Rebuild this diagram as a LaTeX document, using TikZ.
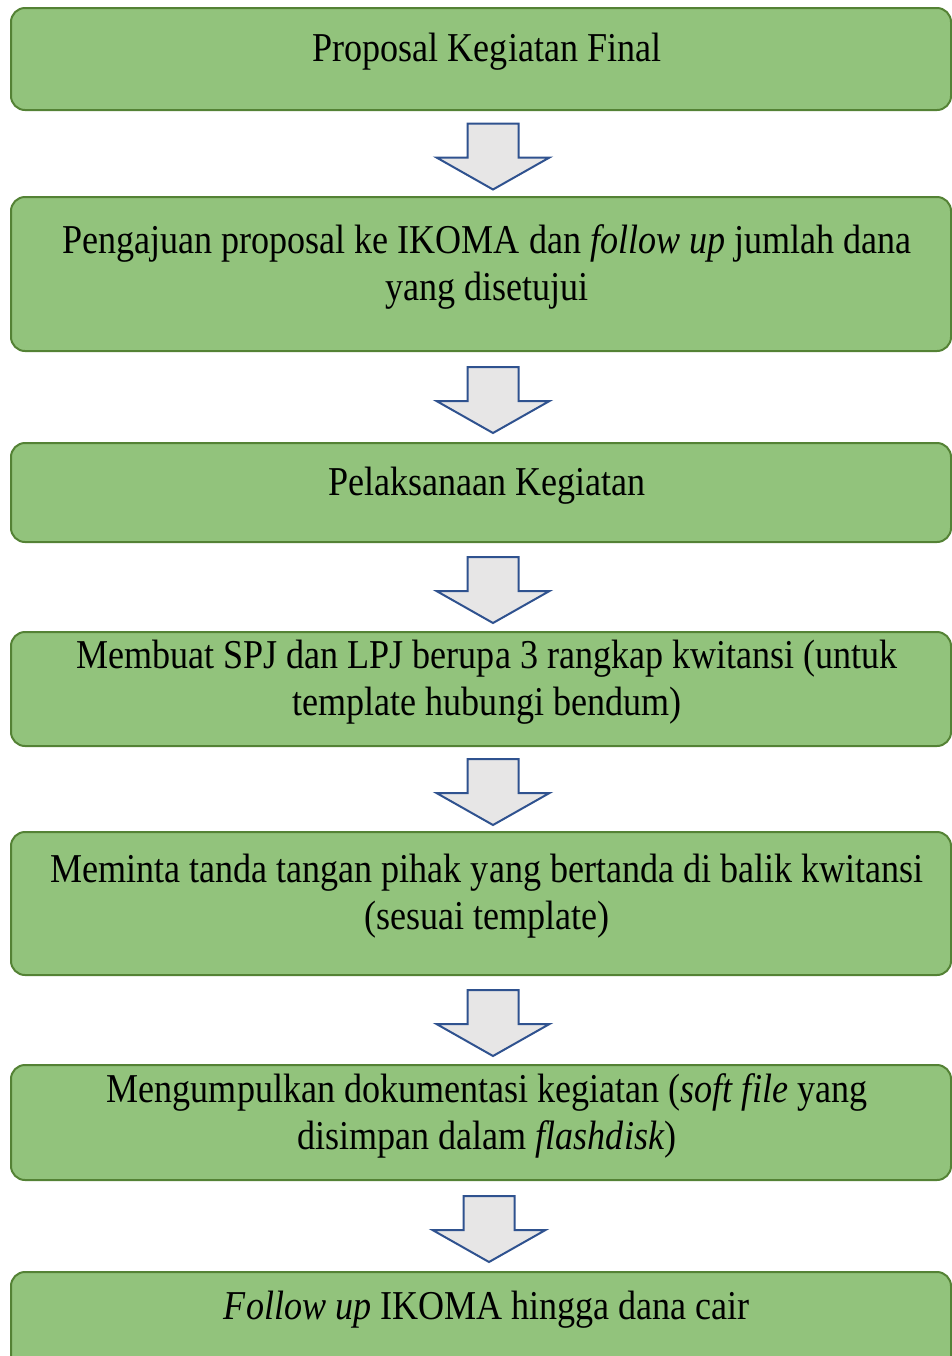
\documentclass[tikz,border=0pt]{standalone}
\usepackage{fontspec}
\setmainfont[FakeStretch=0.88]{Liberation Serif}
\usetikzlibrary{positioning, calc}
\definecolor{boxfill}{HTML}{92C37C}
\definecolor{boxline}{HTML}{548235}
\definecolor{arrowfill}{HTML}{E7E6E6}
\definecolor{arrowline}{HTML}{2F528F}
\tikzstyle{greenbox} = [rectangle, rounded corners=7pt, minimum width=470pt, outer sep=0pt, inner sep=0pt, draw=boxline, line width=1pt, fill=boxfill]
\tikzstyle{steptext} = [align=center, inner sep=0pt, font=\fontsize{20.5pt}{23.5pt}\selectfont]
\tikzstyle{blockarrow} = [draw=arrowline, line width=1pt, fill=arrowfill, line join=miter]
\newcommand{\flowarrow}[3]{%
        \path ($(#1.south)!0.5!(#2.north)$) ++(#3,-1.5pt) coordinate (#1#2);
        \draw [blockarrow] ($(#1#2)+(-12.75pt,16.5pt)$) -- ++(25.5pt,0) -- ++(0,-17pt) -- ++(15.5pt,0) -- ++(-28.25pt,-16pt) -- ++(-28.25pt,16pt) -- ++(15.5pt,0) -- cycle;}

\begin{document}
\begin{tikzpicture}
        \useasboundingbox (0,0) rectangle (476pt,-678pt);
        \node (b1) [greenbox, minimum height=51pt, anchor=north west] at (5.5pt,-4pt) {};
        \node (b2) [greenbox, minimum height=77pt, below=43.5pt of b1] {};
        \node (b3) [greenbox, minimum height=49.5pt, below=46pt of b2] {};
        \node (b4) [greenbox, minimum height=57pt, below=45pt of b3] {};
        \node (b5) [greenbox, minimum height=71.5pt, below=43pt of b4] {};
        \node (b6) [greenbox, minimum height=57.5pt, below=45pt of b5] {};
        \node (b7) [greenbox, minimum height=50pt, below=46pt of b6] {};

        \node (t1) [steptext] at ($(b1.center)+(3pt,3.5pt)$) {Proposal Kegiatan Final};
        \node (t2) [steptext] at ($(b2.center)+(3pt,3.5pt)$) {Pengajuan proposal ke IKOMA dan \textit{follow up} jumlah dana\\yang disetujui};
        \node (t3) [steptext] at ($(b3.center)+(3pt,3.5pt)$) {Pelaksanaan Kegiatan};
        \node (t4) [steptext] at ($(b4.center)+(3pt,3.5pt)$) {Membuat SPJ dan LPJ berupa 3 rangkap kwitansi (untuk\\template hubungi bendum)};
        \node (t5) [steptext] at ($(b5.center)+(3pt,3.5pt)$) {Meminta tanda tangan pihak yang bertanda di balik kwitansi\\(sesuai template)};
        \node (t6) [steptext] at ($(b6.center)+(3pt,3.5pt)$) {Mengumpulkan dokumentasi kegiatan (\textit{soft file} yang\\disimpan dalam \textit{flashdisk})};
        \node (t7) [steptext] at ($(b7.center)+(3pt,6pt)$) {\textit{Follow up} IKOMA hingga dana cair};

        \flowarrow{b1}{b2}{6pt}
        \flowarrow{b2}{b3}{6pt}
        \flowarrow{b3}{b4}{6pt}
        \flowarrow{b4}{b5}{6pt}
        \flowarrow{b5}{b6}{6pt}
        \flowarrow{b6}{b7}{4pt}
\end{tikzpicture}
\end{document}
